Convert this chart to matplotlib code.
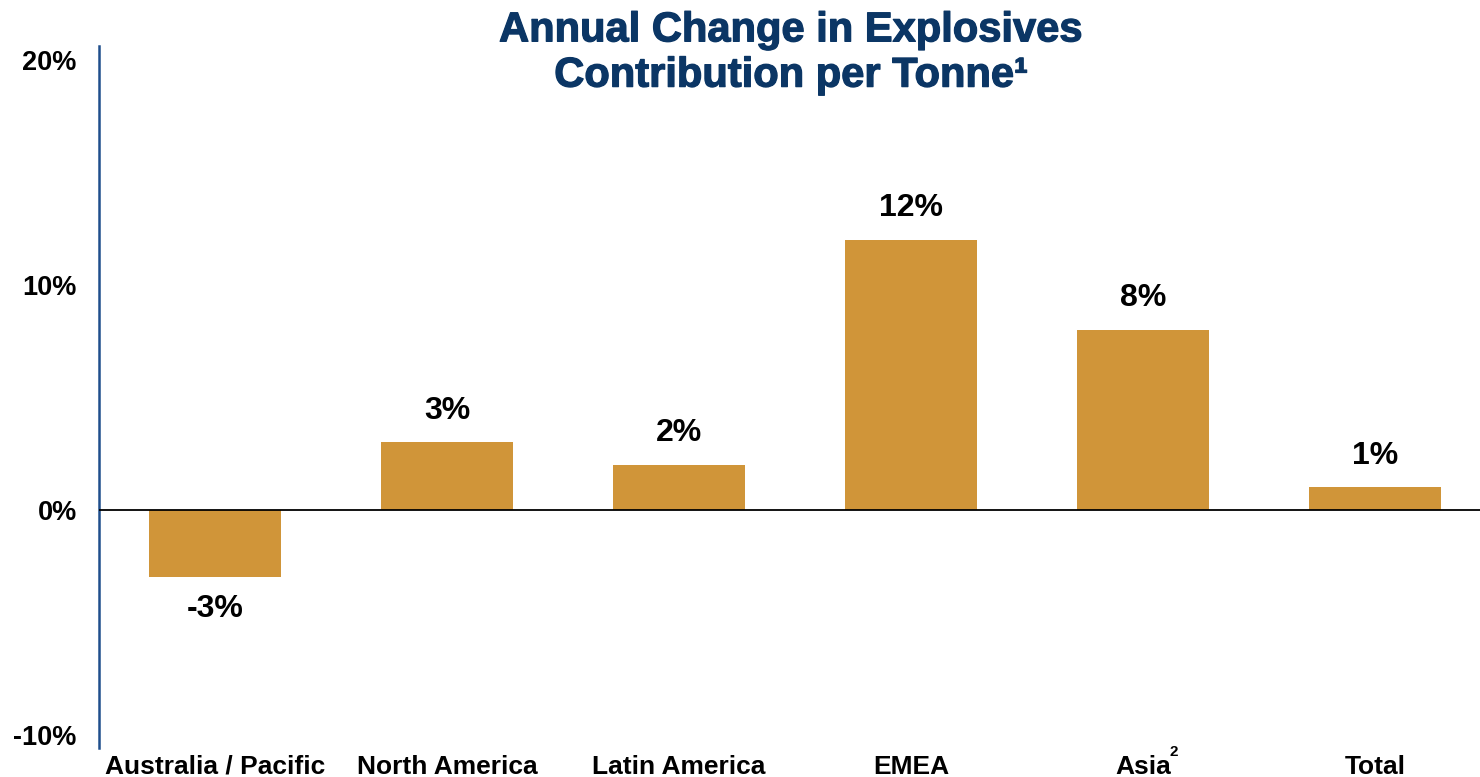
import numpy as np
import matplotlib.pyplot as plt
import matplotlib.patheffects as pe

plt.rcParams['font.family'] = ['Liberation Sans', 'DejaVu Sans']
plt.rcParams['font.weight'] = 'bold'

regions = ["Australia / Pacific", "North America", "Latin America", "EMEA", "Asia", "Total"]
change = [-3, 3, 2, 12, 8, 1]
yticks = [-10, 0, 10, 20]

bar_color = "#D09539"
navy = "#0B3665"

fig = plt.figure(figsize=(14.8, 7.77), dpi=100)
ax = fig.add_axes([99/1480, 29/777, 1392/1480, 702/777])

x = np.arange(len(regions))
ax.bar(x, change, width=0.57, color=bar_color, zorder=2)
ax.axhline(0, color="black", lw=1.3, zorder=3)

for xi, v in zip(x, change):
    if v >= 0:
        ax.annotate(f"{v}%", (xi, v), xytext=(0, 12), textcoords="offset points",
                    ha="center", va="bottom", fontsize=23, fontweight="bold")
    else:
        ax.annotate(f"{v}%", (xi, v), xytext=(0, -12), textcoords="offset points",
                    ha="center", va="top", fontsize=23, fontweight="bold")

ax.set_xlim(-0.5, len(regions) - 0.5)
ax.set_ylim(-10.58, 20.62)
ax.set_yticks(yticks)
ax.set_yticklabels([f"{t}%" for t in yticks], fontsize=19.5, fontweight="bold")
ax.set_xticks(x)
ax.set_xticklabels(regions, fontsize=19, fontweight="bold")
ax.tick_params(axis="y", length=0, pad=16)
ax.tick_params(axis="x", length=0, pad=5)

# superscript on Asia
ax.annotate("2", (4, 0), xycoords=("data", "axes fraction"), xytext=(22, -3),
            textcoords="offset points", ha="center", va="center", fontsize=11, fontweight="bold")

for s in ["top", "right", "bottom"]:
    ax.spines[s].set_visible(False)
ax.spines["left"].set_color("#1F4E8C")
ax.spines["left"].set_linewidth(1.8)

fig.text(791/1480, 1 - 53/777, "Annual Change in Explosives\nContribution per Tonne\u00b9",
         ha="center", va="center", fontsize=30, fontweight="bold", color=navy, linespacing=1.17,
         path_effects=[pe.withStroke(linewidth=0.9, foreground=navy)])

fig.savefig("out.png", dpi=100)
